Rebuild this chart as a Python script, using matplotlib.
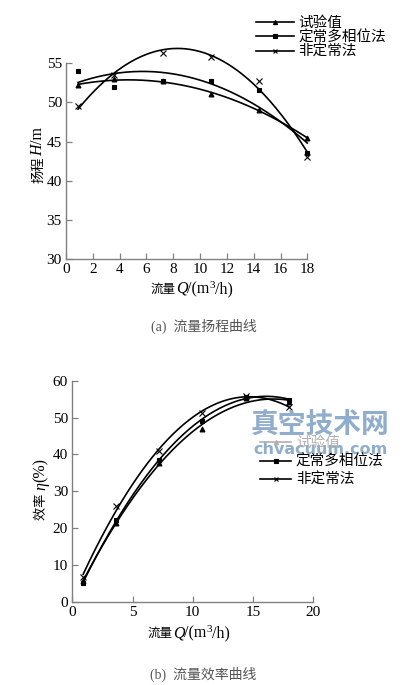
import numpy as np
import matplotlib
matplotlib.use("Agg")
import matplotlib.pyplot as plt

plt.rcParams['font.family'] = ['Liberation Serif', 'Noto Sans CJK SC']

# ---- data ----
Q = [0.9, 3.6, 7.2, 10.8, 14.4, 18.0]
series_names = ['试验值', '定常多相位法', '非定常法']
markers = ['^', 's', 'x']

H_test = [52.2, 53.0, 52.7, 51.1, 49.0, 45.5]
H_steady = [54.0, 52.0, 52.8, 52.8, 51.6, 43.5]
H_unsteady = [49.5, 53.5, 56.3, 55.8, 52.8, 43.1]

eta_test = [5.5, 21.5, 37.6, 46.8, 55.3, 54.3]
eta_steady = [5.0, 22.2, 38.5, 49.1, 55.5, 54.9]
eta_unsteady = [6.6, 26.1, 40.9, 51.3, 55.9, 52.9]

top_xticks = [0, 2, 4, 6, 8, 10, 12, 14, 16, 18]
top_yticks = [30, 35, 40, 45, 50, 55]
bot_xticks = [0, 5, 10, 15, 20]
bot_yticks = [0, 10, 20, 30, 40, 50, 60]

W, Hpx = 407, 685
fig = plt.figure(figsize=(W / 100, Hpx / 100), dpi=100)
spine_c = '#808080'


def style(ax):
    for s in ['top', 'right']:
        ax.spines[s].set_visible(False)
    for s in ['left', 'bottom']:
        ax.spines[s].set_color(spine_c)
        ax.spines[s].set_linewidth(1.0)
    ax.tick_params(direction='in', length=4, width=0.9, color=spine_c,
                   labelsize=11, pad=3)


def draw(ax, Hs, deg):
    qq = np.linspace(Q[0], Q[-1], 200)
    handles = []
    for vals, m, name in zip(Hs, markers, series_names):
        c = np.polyfit(Q, vals, deg)
        ax.plot(qq, np.polyval(c, qq), color='black', lw=1.2, clip_on=False)
        ms = 3.5 if m != 'x' else 4
        ax.plot(Q, vals, ls='none', marker=m, ms=ms, color='black', mew=0.8,
                clip_on=False)
        h, = ax.plot([], [], color='black', lw=1.2, marker=m, ms=3, mew=0.8)
        handles.append(h)
    return handles


LAT = ['Liberation Serif']
CJK = ['Noto Sans CJK SC']


def rich(parts, center_px, base_px, rotation=0):
    """parts: list of (text, family, size, italic, shift_px).
    horizontal: center_px = x centre, base_px = baseline y (from top).
    vertical: center_px = y centre, base_px = baseline x."""
    renderer = fig.canvas.get_renderer()
    objs = []
    lengths = []
    for s, fam, size, it, sh in parts:
        t = fig.text(0, 0, s, family=fam, fontsize=size,
                     style='italic' if it else 'normal',
                     ha='left', va='baseline', rotation=rotation,
                     rotation_mode='anchor')
        bb = t.get_window_extent(renderer)
        lengths.append(bb.width if rotation == 0 else bb.height)
        objs.append(t)
    total = sum(lengths)
    pos = center_px - total / 2 if rotation == 0 else center_px + total / 2
    for t, L, p in zip(objs, lengths, parts):
        sh = p[4]
        if rotation == 0:
            t.set_position((pos / W, 1 - (base_px - sh) / Hpx))
            pos += L
        else:
            t.set_position(((base_px - sh) / W, 1 - pos / Hpx))
            pos -= L
    return objs


# ---- top chart ----
ax1 = fig.add_axes([0.1622, 0.6215, 0.5929, 0.2861])
hs = draw(ax1, [H_test, H_steady, H_unsteady], 2)
ax1.set_xlim(0, 18)
ax1.set_ylim(30, 55)
ax1.set_xticks(top_xticks)
ax1.set_yticks(top_yticks)
style(ax1)
leg1 = fig.legend(hs, series_names, loc='upper left',
                  bbox_to_anchor=(0.615, 0.985), frameon=False,
                  fontsize=10.5, handlelength=2.6, handletextpad=0.3,
                  labelspacing=0.05, borderaxespad=0)
fig.text(0.5, 1 - 326 / Hpx, '(a)  流量扬程曲线', ha='center', va='center',
         fontsize=10, color='#555555')

# ---- bottom chart ----
ax2 = fig.add_axes([0.1776, 0.1216, 0.5921, 0.3226])
hs2 = draw(ax2, [eta_test, eta_steady, eta_unsteady], 2)
ax2.set_xlim(0, 20)
ax2.set_ylim(0, 60)
ax2.set_xticks(bot_xticks)
ax2.set_yticks(bot_yticks)
style(ax2)
leg2 = fig.legend(hs2, series_names, loc='upper left',
                  bbox_to_anchor=(0.625, 1 - 431 / Hpx), frameon=False,
                  fontsize=10.5, handlelength=2.1, handletextpad=0.35,
                  labelspacing=0.3, borderaxespad=0)
leg2.get_texts()[0].set_color('#b0b0b0')
leg2.get_lines()[0].set_color('#b0b0b0')
fig.text(0.5, 1 - 674 / Hpx, '(b)  流量效率曲线', ha='center', va='center',
         fontsize=10, color='#555555')

# axis labels (mixed scripts)
xl = [('流量', CJK, 9, False, 0), ('Q', LAT, 11.5, True, 0),
      ('/(m', LAT, 11.5, False, 0), ('3', LAT, 8, False, 5),
      ('/h)', LAT, 11.5, False, 0)]
rich(xl, 192, 293)
rich(xl, 189, 637)
rich([('扬程', CJK, 9.5, False, 0), ('H', LAT, 11.5, True, 0),
      ('/m', LAT, 11.5, False, 0)], 155, 42, rotation=90)
rich([('效率 ', CJK, 9.5, False, 0), ('η', LAT, 11.5, True, 0),
      ('(%)', LAT, 11.5, False, 0)], 489, 45, rotation=90)

# watermark
fig.text(320 / W, 1 - 425 / Hpx, '真空技术网', ha='center', va='center',
         fontsize=20, fontweight='bold', color='#7d9fc2', alpha=0.85,
         family=CJK)
fig.text(320 / W, 1 - 450 / Hpx, 'chvacuum.com', ha='center', va='center',
         fontsize=11.5, fontweight='bold', color='#7d9fc2', alpha=0.85,
         family=['DejaVu Sans'])

fig.savefig('out.png', dpi=100)
